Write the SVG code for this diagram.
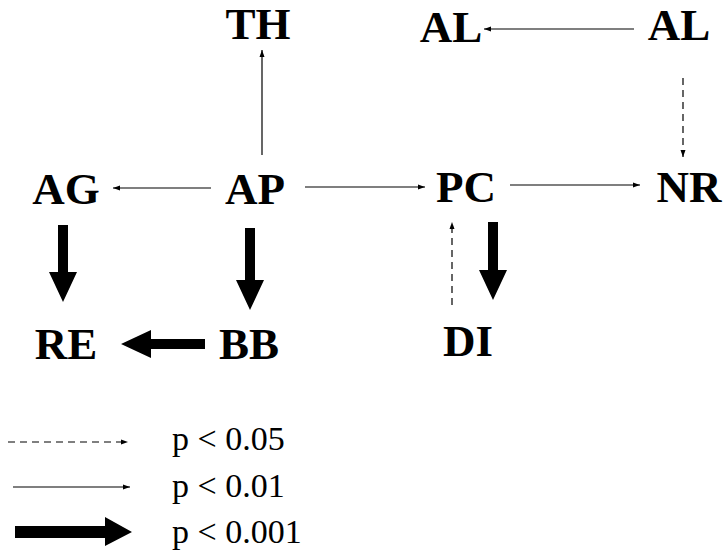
<svg xmlns="http://www.w3.org/2000/svg" width="725" height="552" viewBox="0 0 725 552">
<style>
.n{font-family:"Liberation Serif","Times New Roman",serif;font-weight:bold;font-size:45px;fill:#000}
.lg{font-family:"Liberation Serif","Times New Roman",serif;font-size:34px;fill:#000}
.t{stroke:#000;stroke-width:1.2;fill:none}
.d{stroke:#000;stroke-width:1.2;fill:none;stroke-dasharray:7,5}
.k{fill:#000}
</style>
<defs>
<marker id="ah" markerWidth="8" markerHeight="6" refX="7" refY="3" orient="auto" markerUnits="userSpaceOnUse">
<path d="M0,0.5 L7,3 L0,5.5 Z" fill="#000"/>
</marker>
</defs>
<rect width="725" height="552" fill="#fff"/>
<g id="TH"><text class="n" x="258" y="39" text-anchor="middle">TH</text></g>
<g id="AL1"><text class="n" x="451" y="42" text-anchor="middle">AL</text></g>
<g id="AL2"><text class="n" x="679" y="40" text-anchor="middle">AL</text></g>
<g id="AG"><text class="n" x="66" y="204" text-anchor="middle">AG</text></g>
<g id="AP"><text class="n" x="255" y="204" text-anchor="middle">AP</text></g>
<g id="PC"><text class="n" x="466" y="202" text-anchor="middle">PC</text></g>
<g id="NR"><text class="n" x="689" y="202" text-anchor="middle">NR</text></g>
<g id="RE"><text class="n" x="66" y="359" text-anchor="middle">RE</text></g>
<g id="BB"><text class="n" x="249" y="359" text-anchor="middle">BB</text></g>
<g id="DI"><text class="n" x="468" y="356" text-anchor="middle">DI</text></g>
<g id="connectors">
<line class="t" x1="634" y1="29" x2="484" y2="29" marker-end="url(#ah)"/>
<line class="d" x1="683" y1="78" x2="683" y2="157" marker-end="url(#ah)"/>
<line class="t" x1="262" y1="155" x2="262" y2="50" marker-end="url(#ah)"/>
<line class="t" x1="211" y1="188" x2="113" y2="188" marker-end="url(#ah)"/>
<line class="t" x1="305" y1="187" x2="425" y2="187" marker-end="url(#ah)"/>
<line class="t" x1="510" y1="185" x2="640" y2="185" marker-end="url(#ah)"/>
<line class="d" x1="452" y1="305" x2="452" y2="222" marker-end="url(#ah)"/>
<path class="k" d="M58,225 H68 V272 H77 L63,302 L49,272 H58 Z"/>
<path class="k" d="M245,228 H255 V280 H264 L250,310 L236,280 H245 Z"/>
<path class="k" d="M488,222 H498 V270 H507 L493,300 L479,270 H488 Z"/>
<path class="k" d="M205,339 V349 H151 V358 L121,344 L151,330 V339 Z"/>
</g>
<g id="legend">
<line class="d" x1="8" y1="442" x2="128" y2="442" marker-end="url(#ah)"/>
<text class="lg" x="172" y="450">p &lt; 0.05</text>
<line class="t" x1="13" y1="487" x2="130" y2="487" marker-end="url(#ah)"/>
<text class="lg" x="172" y="497">p &lt; 0.01</text>
<path class="k" d="M15,526 H105 V517 L132,532 L105,546 V538 H15 Z"/>
<text class="lg" x="172" y="543">p &lt; 0.001</text>
</g>
</svg>
